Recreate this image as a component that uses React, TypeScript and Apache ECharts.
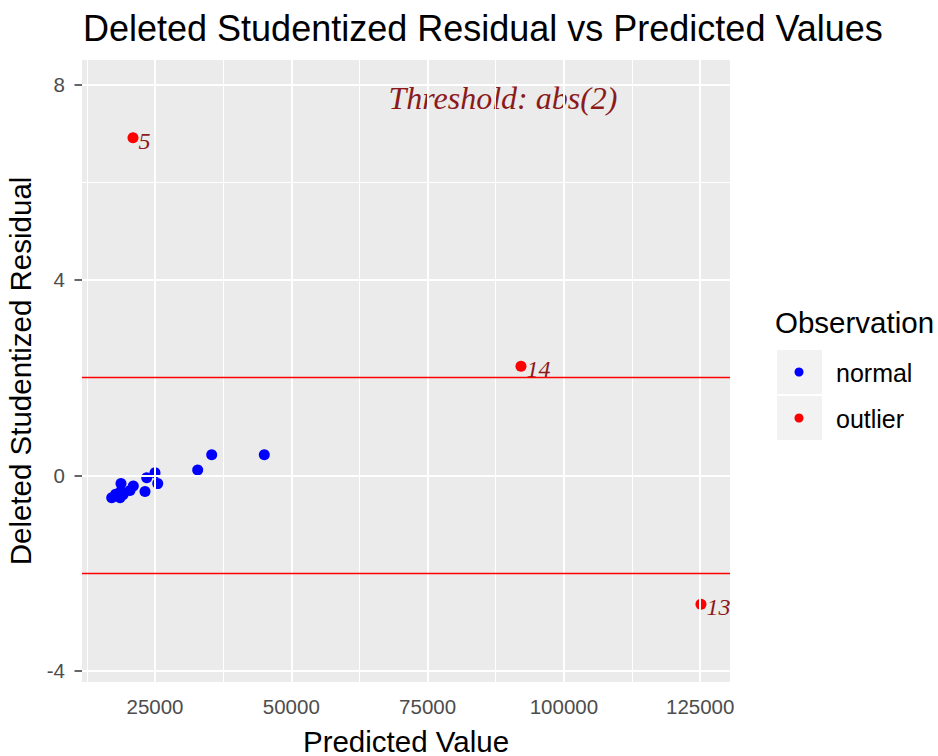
import React, { useEffect, useRef } from "react";
import * as echarts from "echarts";

const normalPoints: [number, number][] = [
  [45050, 0.42],
  [35400, 0.42],
  [32830, 0.11],
  [25000, 0.05],
  [23480, -0.05],
  [25500, -0.17],
  [23170, -0.33],
  [21020, -0.22],
  [20410, -0.31],
  [18760, -0.17],
  [18760, -0.32],
  [19190, -0.39],
  [17770, -0.39],
  [17060, -0.46],
  [18590, -0.46],
];
const outlierPoints: [number, number, string][] = [
  [20965, 6.91, "5"],
  [92130, 2.23, "14"],
  [125140, -2.64, "13"],
];
const xTicks = [25000, 50000, 75000, 100000, 125000];
const xMinor = [12500, 37500, 62500, 87500, 112500];
const yTicks = [-4, 0, 4, 8];
const yMinor = [-2, 2, 6];
const thresholds = [-2, 2];

const FONT = "'Liberation Sans', Arial, sans-serif";
const SERIF = "'Liberation Serif', 'Times New Roman', serif";

export default function App() {
  const ref = useRef<HTMLDivElement>(null);
  useEffect(() => {
    if (!ref.current) return;
    const chart = echarts.init(ref.current, undefined, { renderer: "svg" });
    const gridLines = [
      ...xTicks.map((v) => ({ xAxis: v, lineStyle: { width: 2 } })),
      ...xMinor.map((v) => ({ xAxis: v, lineStyle: { width: 1 } })),
      ...yTicks.map((v) => ({ yAxis: v, lineStyle: { width: 2 } })),
      ...yMinor.map((v) => ({ yAxis: v, lineStyle: { width: 1 } })),
    ];
    chart.setOption({
      animation: false,
      backgroundColor: "#ffffff",
      textStyle: { fontFamily: FONT },
      title: {
        text: "Deleted Studentized Residual vs Predicted Values",
        left: 78,
        top: 5,
        textStyle: { fontFamily: FONT, fontSize: 36, fontWeight: "normal", color: "#000" },
      },
      grid: {
        left: 82,
        right: 208,
        top: 60,
        bottom: 74,
        show: true,
        backgroundColor: "#EBEBEB",
        borderWidth: 0,
        containLabel: false,
        outerBoundsMode: "none",
      },
      xAxis: {
        type: "value",
        min: 11610,
        max: 130470,
        name: "Predicted Value",
        nameLocation: "middle",
        nameGap: 44,
        nameTextStyle: { fontFamily: FONT, fontSize: 29.5, color: "#000" },
        axisLine: { show: false },
        axisTick: { show: true, length: 7.5, lineStyle: { color: "#333", width: 1.5 }, customValues: xTicks },
        axisLabel: {
          customValues: xTicks,
          color: "#4D4D4D",
          fontSize: 20.5,
          margin: 14,
          fontFamily: FONT,
          formatter: (v: number) => String(v),
        },
        splitLine: { show: false },
      },
      yAxis: {
        type: "value",
        min: -4.23,
        max: 8.5,
        name: "Deleted Studentized Residual",
        nameLocation: "middle",
        nameGap: 39,
        nameTextStyle: { fontFamily: FONT, fontSize: 29.5, color: "#000" },
        axisLine: { show: false },
        axisTick: { show: true, length: 7.5, lineStyle: { color: "#333", width: 1.5 }, customValues: yTicks },
        axisLabel: {
          customValues: yTicks,
          color: "#4D4D4D",
          fontSize: 20.5,
          margin: 17,
          fontFamily: FONT,
          formatter: (v: number) => String(v),
        },
        splitLine: { show: false },
      },
      series: [
        {
          name: "grid",
          type: "scatter",
          data: [],
          silent: true,
          z: 1,
          markLine: {
            silent: true,
            symbol: "none",
            label: { show: false },
            lineStyle: { color: "#FFFFFF", type: "solid" },
            data: gridLines,
          },
        },
        {
          name: "threshold",
          type: "scatter",
          data: [],
          silent: true,
          z: 2,
          markLine: {
            silent: true,
            symbol: "none",
            label: { show: false },
            lineStyle: { color: "#FF0000", type: "solid", width: 1.4 },
            data: thresholds.map((v) => ({ yAxis: v })),
          },
        },
        {
          name: "normal",
          type: "scatter",
          z: 3,
          symbolSize: 11,
          itemStyle: { color: "#0000FF", opacity: 1 },
          data: normalPoints,
        },
        {
          name: "outlier",
          type: "scatter",
          z: 3,
          symbolSize: 11,
          itemStyle: { color: "#FF0000", opacity: 1 },
          label: {
            show: true,
            position: "right",
            distance: 0,
            formatter: (p: any) => p.data[2],
            fontFamily: SERIF,
            fontStyle: "italic",
            fontSize: 24,
            color: "#8B1A1A",
            offset: [0, 3],
          },
          data: outlierPoints,
        },
      ],
      graphic: [
        {
          type: "text",
          x: 503,
          y: 98,
          style: {
            text: "Threshold: abs(2)",
            font: `italic 32px ${SERIF}`,
            fill: "#8B1A1A",
            align: "center",
            verticalAlign: "middle",
          },
        },
        {
          type: "text",
          x: 775,
          y: 322,
          style: {
            text: "Observation",
            font: `29.5px ${FONT}`,
            fill: "#000",
            verticalAlign: "middle",
          },
        },
        { type: "rect", shape: { x: 777, y: 350, width: 45, height: 44 }, style: { fill: "#F2F2F2" } },
        { type: "rect", shape: { x: 777, y: 396, width: 45, height: 44 }, style: { fill: "#F2F2F2" } },
        { type: "circle", shape: { cx: 799, cy: 372, r: 4.5 }, style: { fill: "#0000FF" } },
        { type: "circle", shape: { cx: 799, cy: 418, r: 4.5 }, style: { fill: "#FF0000" } },
        {
          type: "text",
          x: 836,
          y: 373,
          style: { text: "normal", font: `25px ${FONT}`, fill: "#000", verticalAlign: "middle" },
        },
        {
          type: "text",
          x: 836,
          y: 419,
          style: { text: "outlier", font: `25px ${FONT}`, fill: "#000", verticalAlign: "middle" },
        },
      ],
    });
    return () => chart.dispose();
  }, []);
  return (
    <div
      ref={ref}
      style={{ position: "fixed", left: 0, top: 0, width: 938, height: 756 }}
    />
  );
}
